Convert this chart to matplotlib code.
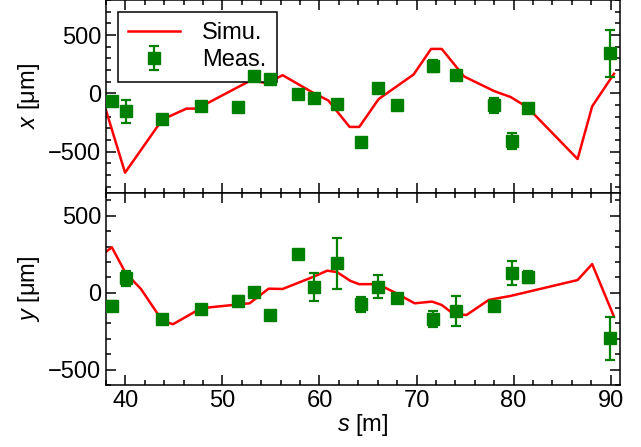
import numpy as np
import matplotlib
matplotlib.use('Agg')
import matplotlib.pyplot as plt
from matplotlib.ticker import MultipleLocator

plt.rcParams['font.family'] = ['Liberation Sans', 'DejaVu Sans']
plt.rcParams['mathtext.fontset'] = 'custom'
plt.rcParams['mathtext.rm'] = 'Liberation Sans'
plt.rcParams['mathtext.it'] = 'Liberation Sans:italic'
plt.rcParams['font.size'] = 17

# simulation (horizontal)
sim_x_s = [38.0, 39.96, 43.8, 46.3, 47.4, 52.9, 54.6, 56.2, 59.4, 60.9, 63.1, 64.1,
           66.1, 69.7, 71.5, 72.6, 74.9, 78.0, 79.7, 81.4, 86.6, 88.1, 90.35]
sim_x = [-145, -679, -224, -130, -130, 111, 88, 156, 3, -60, -287, -287,
         -48, 162, 381, 381, 145, 20, -31, -117, -562, -111, 168]

# simulation (vertical)
sim_y_s = [38.0, 38.6, 40.0, 41.6, 43.8, 44.9, 47.8, 52.8, 54.75, 56.2, 59.4, 60.8,
           61.8, 63.2, 64.1, 66.0, 67.8, 69.8, 71.6, 72.6, 73.8, 75.15, 77.45,
           79.7, 86.6, 88.1, 90.35]
sim_y = [266, 295, 130, 24, -182, -205, -101, -69, 26, 24, 104, 143,
         134, 76, 55, 56, 0, -69, -58, -80, -138, -145, -47,
         -21, 82, 186, -156]

# measurements
meas_s = [38.6, 40.05, 43.8, 47.8, 51.6, 53.3, 54.85, 57.8, 59.4, 61.8, 64.3, 66.0,
          68.0, 71.7, 74.1, 78.0, 79.8, 81.5, 89.9]
meas_x = [-68, -153, -216, -111, -117, 145, 125, -3, -40, -94, -415, 48,
          -102, 238, 159, -102, -409, -122, 343]
meas_x_err = [20, 100, 30, 20, 20, 20, 20, 20, 20, 20, 20, 20,
              20, 52, 30, 64, 68, 20, 200]
meas_y = [-84, 93, -173, -106, -52, 3, -145, 249, 39, 191, -75, 39,
          -37, -171, -117, -84, 130, 100, -296]
meas_y_err = [30, 50, 20, 20, 30, 30, 20, 25, 92, 167, 50, 76,
              25, 52, 97, 30, 79, 40, 141]

fig = plt.figure(figsize=(6.41, 4.47), dpi=100)
ax1 = fig.add_axes([0.1654, 0.569, 0.8023, 0.431])
ax2 = fig.add_axes([0.1654, 0.1387, 0.8023, 0.4303], sharex=ax1)

panels = [(ax1, sim_x_s, sim_x, meas_x, meas_x_err, r'$x$ [μm]', (-850, 800)),
          (ax2, sim_y_s, sim_y, meas_y, meas_y_err, r'$y$ [μm]', (-600, 650))]

for ax, ss, sv, mv, me, lab, yl in panels:
    ax.plot(ss, sv, color='red', lw=1.8, label='Simu.', zorder=2)
    ax.errorbar(meas_s, mv, yerr=me, fmt='s', color='green', ms=9,
                elinewidth=1.6, capsize=3.6, capthick=1.6, label='Meas.', zorder=6)
    ax.set_ylim(*yl)
    ax.set_ylabel(lab)
    ax.yaxis.set_major_locator(MultipleLocator(500))
    ax.yaxis.set_minor_locator(MultipleLocator(100))
    ax.xaxis.set_major_locator(MultipleLocator(10))
    ax.xaxis.set_minor_locator(MultipleLocator(2))
    ax.tick_params(which='both', direction='in', top=True, right=True, width=1.1)
    ax.tick_params(which='major', length=7)
    ax.tick_params(which='minor', length=3.6)
    for sp in ax.spines.values():
        sp.set_linewidth(1.1)
    ax.yaxis.set_label_coords(-0.125, 0.5)

ax1.set_xlim(38, 91)
ax1.tick_params(labelbottom=False)
ax2.set_xlabel(r'$s$ [m]', labelpad=0)

leg = ax1.legend(loc='upper left', fancybox=False, edgecolor='black', framealpha=1,
                 handlelength=2.2, handletextpad=0.9, borderaxespad=0.5,
                 labelspacing=0.2, borderpad=0.45)
leg.get_frame().set_linewidth(1.1)
leg.set_zorder(4)

fig.savefig('out.png', dpi=100)
